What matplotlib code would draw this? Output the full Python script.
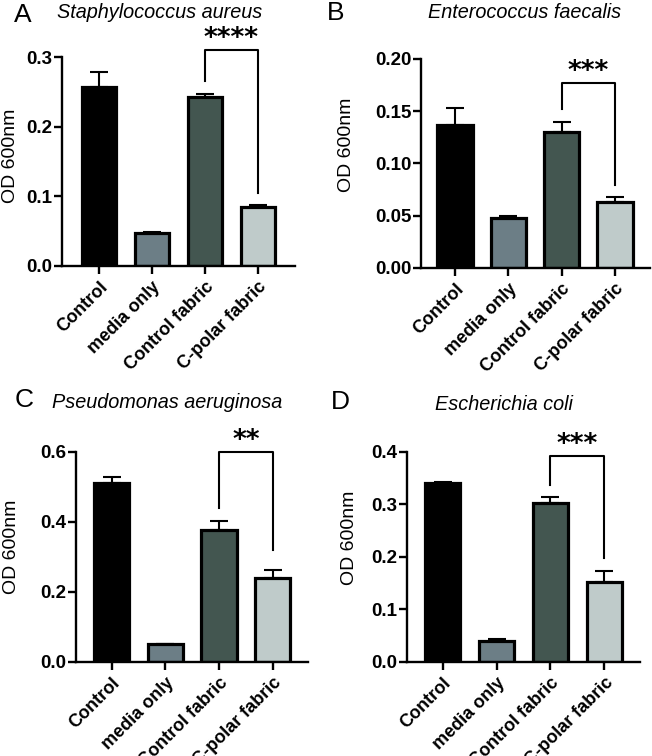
import numpy as np
import matplotlib.pyplot as plt

plt.rcParams['font.family'] = ['Liberation Sans', 'DejaVu Sans']

groups = ["Control", "media only", "Control fabric", "C-polar fabric"]
colors = ["#000000", "#6c7e86", "#435650", "#bfcbca"]

# panel data: mean and upper error (top of error bar minus mean)
sa_mean = [0.257, 0.048, 0.242, 0.084]
sa_err = [0.021, 0.001, 0.005, 0.004]
ef_mean = [0.1365, 0.048, 0.130, 0.0627]
ef_err = [0.017, 0.0012, 0.010, 0.005]
pa_mean = [0.510, 0.050, 0.375, 0.240]
pa_err = [0.017, 0.002, 0.026, 0.022]
ec_mean = [0.341, 0.040, 0.303, 0.151]
ec_err = [0.002, 0.0025, 0.011, 0.022]

panels = [
    dict(letter="A", title="Staphylococcus aureus", mean=sa_mean, err=sa_err,
         ylim=0.3, yticks=[0.0, 0.1, 0.2, 0.3], fmt="{:.1f}",
         stars="****", br=(0.310, 0.265, 0.105),
         pos=[62, 266, 295, 57], xl=(-0.698, 3.698)),
    dict(letter="B", title="Enterococcus faecalis", mean=ef_mean, err=ef_err,
         ylim=0.2, yticks=[0.0, 0.05, 0.10, 0.15, 0.20], fmt="{:.2f}",
         stars="***", br=(0.1773, 0.152, 0.079),
         pos=[421, 267.7, 650, 59], xl=(-0.638, 3.657)),
    dict(letter="C", title="Pseudomonas aeruginosa", mean=pa_mean, err=pa_err,
         ylim=0.6, yticks=[0.0, 0.2, 0.4, 0.6], fmt="{:.1f}",
         stars="**", br=(0.600, 0.438, 0.319),
         pos=[76, 661.7, 308, 451.7], xl=(-0.665, 3.657)),
    dict(letter="D", title="Escherichia coli", mean=ec_mean, err=ec_err,
         ylim=0.4, yticks=[0.0, 0.1, 0.2, 0.3, 0.4], fmt="{:.1f}",
         stars="***", br=(0.392, 0.3365, 0.197),
         pos=[406.7, 661.7, 640, 451.7], xl=(-0.668, 3.662)),
]

# title / panel letter / y-label centres in figure pixels
title_pos = {"A": (160, 13), "B": (525, 13), "C": (167, 403), "D": (504, 405)}
letter_pos = {"A": (23, 15), "B": (336, 13), "C": (24, 400), "D": (340, 402)}
ylabel_pos = {"A": (11, 156), "B": (346, 145), "C": (12, 547), "D": (350, 538)}

W, H = 652, 756
fig = plt.figure(figsize=(W / 100, H / 100), dpi=100)

for p in panels:
    x0, y0, x1, y1 = p["pos"]
    ax = fig.add_axes([x0 / W, 1 - y0 / H, (x1 - x0) / W, (y0 - y1) / H])
    x = np.arange(len(groups))
    mean = np.array(p["mean"])
    err = np.array(p["err"])
    # upper-only error bars
    ax.errorbar(x, mean, yerr=[np.zeros_like(err), err], fmt="none",
                ecolor="black", elinewidth=1.5, capsize=6.5, capthick=1.5,
                zorder=1, clip_on=False)
    ax.bar(x, mean, width=0.66, color=colors, edgecolor="black",
           linewidth=2.3, zorder=2)

    ax.set_xlim(*p["xl"])
    ax.set_ylim(0, p["ylim"])
    ax.set_yticks(p["yticks"])
    ax.set_yticklabels([p["fmt"].format(v) for v in p["yticks"]],
                       fontsize=13.5, fontweight="bold")
    ax.set_xticks(x)
    ax.set_xticklabels(groups, rotation=45, ha="right", rotation_mode="anchor",
                       fontsize=13, fontweight="bold")
    ax.tick_params(axis="both", direction="out", length=6, width=1.7, pad=3)
    ax.tick_params(axis="y", pad=1)
    for s in ["top", "right"]:
        ax.spines[s].set_visible(False)
    for s in ["left", "bottom"]:
        ax.spines[s].set_linewidth(1.7)

    # significance bracket
    top, lleg, rleg = p["br"]
    ax.plot([2, 2, 3, 3], [lleg, top, top, rleg], color="black", lw=1.5,
            clip_on=False, zorder=3)
    ax.annotate(p["stars"], xy=(2.5, top), xytext=(0, 3),
                textcoords="offset points", ha="center", va="baseline",
                fontsize=19, fontweight="bold", family="DejaVu Sans",
                annotation_clip=False)

    L = p["letter"]
    lx, ly = ylabel_pos[L]
    fig.text(lx / W, 1 - ly / H, "OD 600nm", fontsize=14, rotation=90,
             ha="center", va="center")
    tx, ty = title_pos[L]
    fig.text(tx / W, 1 - ty / H, p["title"], fontsize=14.3, style="italic",
             ha="center", va="center")
    lx, ly = letter_pos[L]
    fig.text(lx / W, 1 - ly / H, L, fontsize=19, ha="center", va="center")

fig.savefig("out.png", dpi=100)
